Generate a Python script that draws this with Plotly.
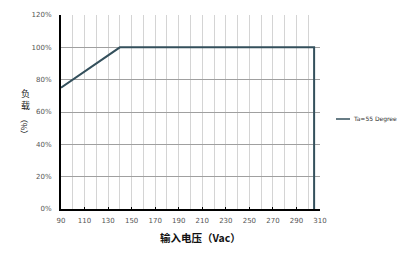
import plotly.graph_objects as go

voltage = [90, 140, 305, 305]
load = [75, 100, 100, 0]
x_ticks = [90, 110, 130, 150, 170, 190, 210, 230, 250, 270, 290, 310]
y_ticks = [0, 20, 40, 60, 80, 100, 120]
series_name = "Ta=55 Degree"
y_title_chars = ["负", "载"]
y_title_unit = "（%）"

fig = go.Figure()
fig.add_trace(go.Scatter(x=voltage, y=load, mode="lines", name=series_name,
                         line=dict(color="#34505c", width=2), showlegend=False))

L, R, T, B = 61, 92, 15, 44
W, H = 412, 253
pw, ph = W - L - R, H - T - B

fig.update_layout(
    width=W, height=H,
    margin=dict(l=L, r=R, t=T, b=B, pad=0),
    paper_bgcolor="white", plot_bgcolor="white",
    font=dict(family="DejaVu Sans", size=7, color="#555555"),
    xaxis=dict(range=[90, 310], tickmode="array", tickvals=x_ticks,
               ticktext=[str(v) for v in x_ticks],
               showgrid=True, gridcolor="#d4d4d4", gridwidth=1,
               minor=dict(dtick=10, tick0=90, showgrid=True, gridcolor="#d4d4d4", gridwidth=1),
               showline=True, linecolor="black", linewidth=2,
               ticks="inside", ticklen=2, tickcolor="black", tickwidth=1,
               zeroline=False, tickfont=dict(size=7, color="#555555"),
               ticklabelstandoff=4),
    yaxis=dict(range=[0, 120], tickmode="array", tickvals=y_ticks,
               ticktext=[f"{v}%" for v in y_ticks],
               showgrid=True, gridcolor="#a0a0a0", gridwidth=1,
               showline=True, linecolor="black", linewidth=2,
               ticks="", zeroline=False, tickfont=dict(size=7, color="#555555"),
               ticklabelstandoff=6),
)

# y axis title: two upright characters, then the unit turned sideways
for ch, py in zip(y_title_chars, [93, 105]):
    fig.add_annotation(x=(25 - L) / pw, y=(209 - py) / ph, xref="paper", yref="paper",
                       text=ch, showarrow=False, borderpad=0,
                       font=dict(family="Noto Sans CJK SC", size=9, color="#222222"),
                       xanchor="center", yanchor="middle")
fig.add_annotation(x=(25 - L) / pw, y=(209 - 126) / ph, xref="paper", yref="paper",
                   text=y_title_unit, showarrow=False, borderpad=0, textangle=90,
                   font=dict(family="Noto Sans CJK SC", size=8, color="#222222"),
                   xanchor="center", yanchor="middle")
# x axis title
fig.add_annotation(x=(200 - L) / pw, y=(209 - 238) / ph, xref="paper", yref="paper",
                   text="<b>输入电压（Vac）</b>", showarrow=False,
                   font=dict(family="Noto Sans CJK SC", size=10.5, color="#111111"),
                   xanchor="center", yanchor="middle")
# legend
ly = (209 - 119) / ph
fig.add_shape(type="line", xref="paper", yref="paper",
              x0=(336 - L) / pw, x1=(350 - L) / pw, y0=ly, y1=ly,
              line=dict(color="#34505c", width=1.5))
fig.add_annotation(x=(351 - L) / pw, y=ly, xref="paper", yref="paper",
                   text=series_name, showarrow=False, xanchor="left", yanchor="middle",
                   font=dict(family="DejaVu Sans", size=6, color="#333333"))

fig.write_html("out.html")
